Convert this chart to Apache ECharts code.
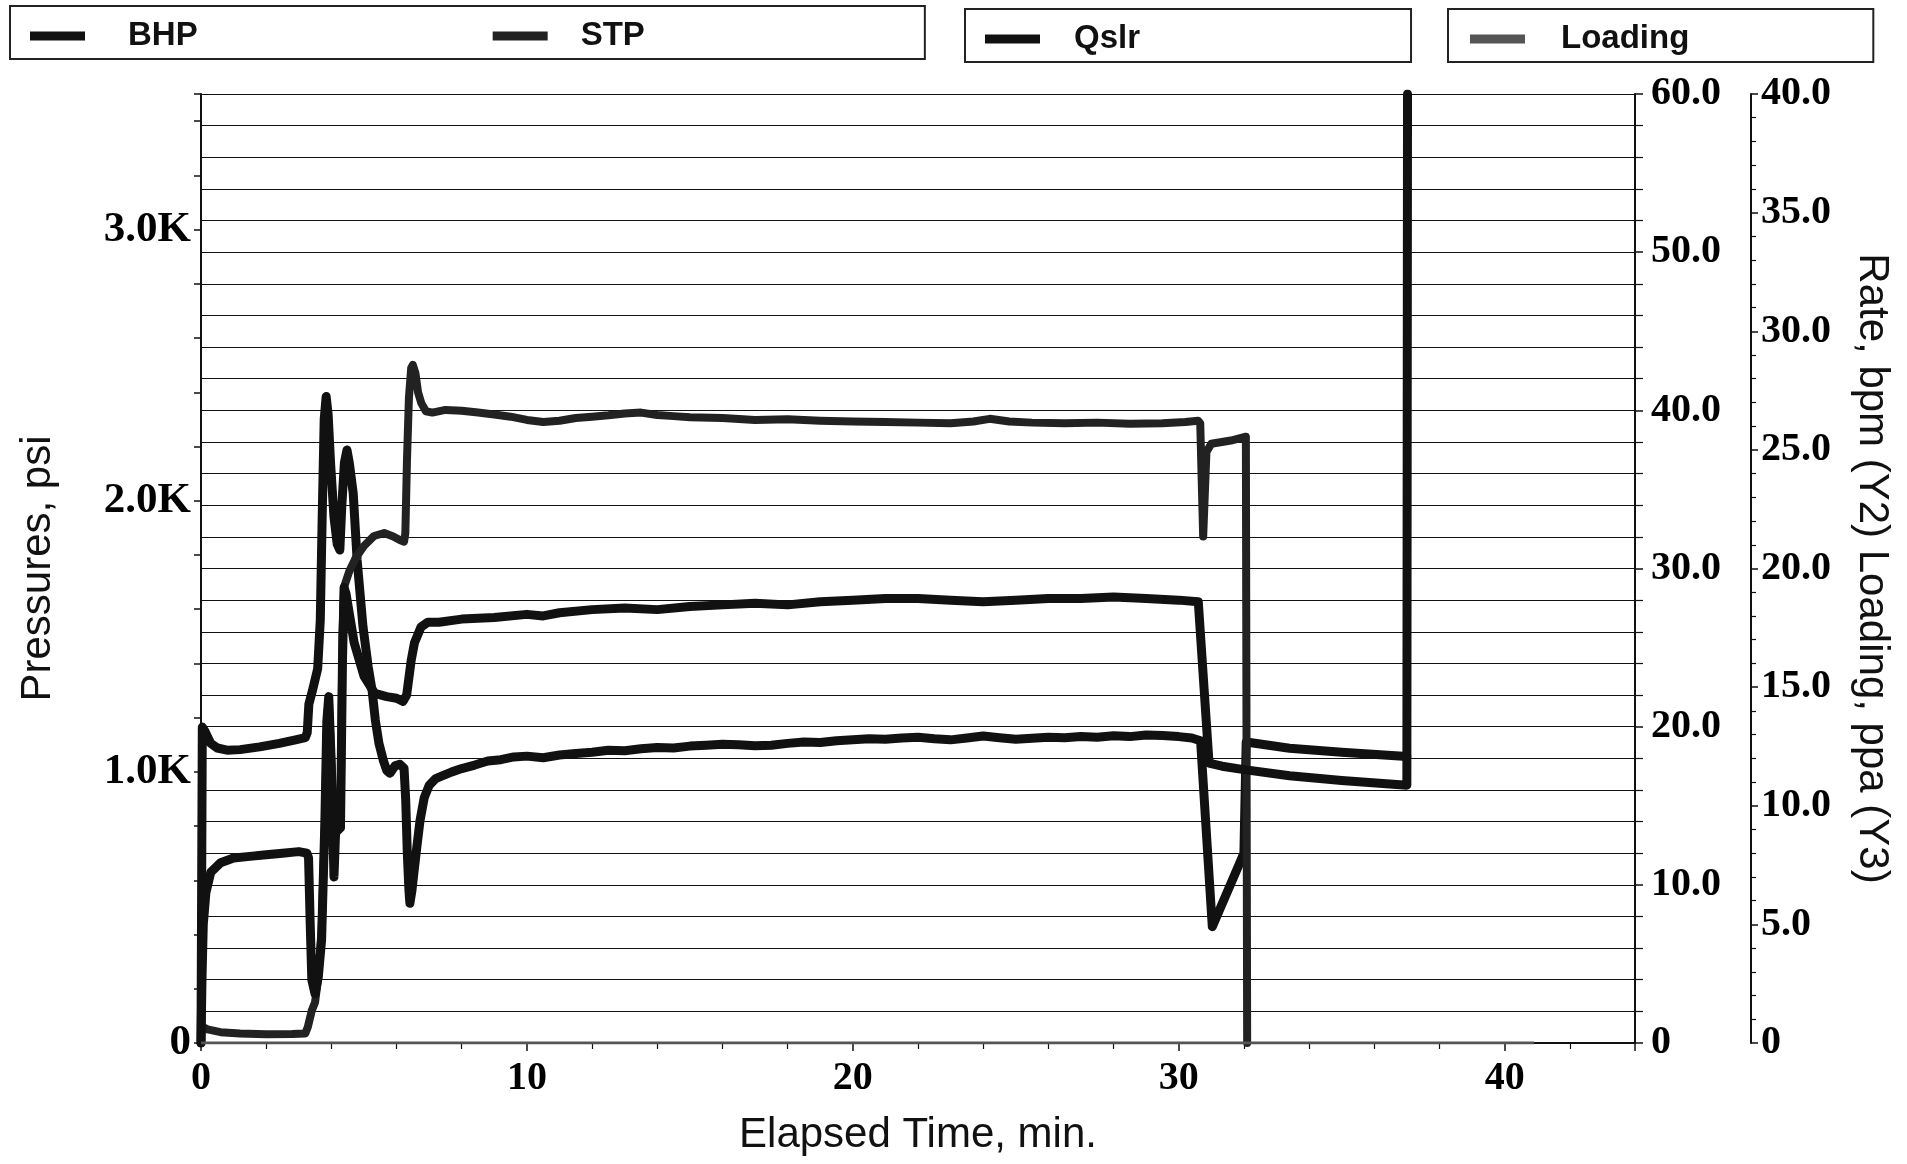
<!DOCTYPE html>
<html><head><meta charset="utf-8">
<script src="https://cdn.jsdelivr.net/npm/echarts/dist/echarts.min.js"></script>
<style>html,body{margin:0;padding:0;background:#fff}#c{width:1907px;height:1164px}</style>
</head><body><div id="c"></div>
<script>
// ---- data (time in minutes) ----
const seriesNames = ['BHP', 'STP', 'Qslr', 'Loading'];

// BHP, psi
const bhpData = [
 [0,0],[0.04,1165],[0.12,1150],[0.3,1105],[0.5,1088],[0.8,1080],[1.2,1082],[1.8,1092],[2.4,1105],[2.9,1118],[3.2,1126],
 [3.26,1145],[3.31,1250],[3.42,1300],[3.58,1380],[3.66,1560],[3.72,1950],[3.78,2300],[3.84,2384],[3.9,2320],[3.98,2130],
 [4.08,1940],[4.18,1840],[4.26,1818],[4.32,1980],[4.4,2140],[4.48,2187],[4.55,2140],[4.67,2028],[4.79,1782],[4.97,1536],
 [5.13,1388],[5.25,1300],[5.35,1190],[5.46,1105],[5.6,1040],[5.7,1005],[5.8,995],[5.95,1022],[6.1,1028],[6.23,1013],
 [6.28,900],[6.33,700],[6.38,564],[6.41,515],[6.47,560],[6.53,625],[6.62,720],[6.72,820],[6.85,905],[7.0,950],[7.2,975],
 [7.4,985],[7.7,1000],[8.0,1012],[8.4,1025],[8.8,1040],[9.2,1045],[9.6,1055],[10.0,1058],[10.5,1052],[11.0,1062],
 [11.5,1068],[12.0,1072],[12.5,1080],[13.0,1078],[13.5,1085],[14.0,1090],[14.5,1088],[15.0,1095],[15.5,1098],[16.0,1102],
 [16.5,1100],[17.0,1096],[17.5,1098],[18.0,1105],[18.5,1110],[19.0,1108],[19.5,1115],[20.0,1118],[20.5,1122],[21.0,1120],
 [21.5,1125],[22.0,1128],[22.5,1122],[23.0,1118],[23.5,1125],[24.0,1132],[24.5,1126],[25.0,1120],[25.5,1124],[26.0,1128],
 [26.5,1126],[27.0,1130],[27.5,1128],[28.0,1133],[28.5,1130],[29.0,1136],[29.5,1134],[30.0,1130],[30.4,1125],[30.67,1115],
 [31.03,429],[32.0,700],[32.07,1110],[33.4,1087],[35.0,1072],[37.0,1057]
];

// STP, psi
const stpData = [
 [0,62],[0.2,50],[0.6,40],[1.2,35],[2.0,32],[2.8,33],[3.2,35],[3.28,60],[3.4,120],[3.5,150],[3.6,245],[3.7,420],[3.8,810],
 [3.87,1200],[3.92,1270],[3.98,1100],[4.05,850],[4.15,800],[4.28,800],[4.34,1500],[4.39,1682],[4.55,1740],[4.75,1790],
 [5.0,1833],[5.31,1870],[5.62,1881],[5.9,1868],[6.1,1855],[6.23,1849],[6.27,1880],[6.32,2150],[6.38,2380],[6.45,2490],
 [6.5,2501],[6.58,2470],[6.66,2400],[6.76,2360],[6.9,2330],[7.1,2325],[7.5,2335],[8.0,2332],[8.5,2325],[9.0,2318],
 [9.5,2310],[10.0,2298],[10.5,2290],[11.0,2295],[11.5,2305],[12.0,2310],[12.5,2315],[13.0,2322],[13.5,2325],[14.0,2316],
 [14.5,2312],[15.0,2308],[16.0,2305],[17.0,2298],[18.0,2300],[19.0,2295],[20.0,2292],[21.0,2290],[22.0,2288],[23.0,2286],
 [23.7,2292],[24.2,2302],[24.8,2292],[25.5,2288],[26.5,2286],[27.5,2288],[28.5,2284],[29.5,2286],[30.2,2290],[30.6,2295],
 [30.66,2285],[30.75,1868],[30.85,2180],[31.0,2210],[31.6,2222],[32.06,2236],[32.1,0]
];

// Qslr, bpm
const qslrData = [
 [0,0],[0.03,4],[0.07,7.5],[0.15,9.5],[0.3,10.8],[0.6,11.4],[1.0,11.7],[1.5,11.8],[2.0,11.9],[2.5,12.0],[3.0,12.1],
 [3.25,12.0],[3.3,11.7],[3.35,7.6],[3.4,4.0],[3.5,3.1],[3.6,4.2],[3.7,6.5],[3.8,13.9],[3.86,20.3],[3.92,21.9],[4.0,17.5],
 [4.08,10.5],[4.13,13.3],[4.28,13.6],[4.34,24.0],[4.39,28.8],[4.45,28.4],[4.7,25.3],[5.0,23.2],[5.33,22.1],[5.7,21.9],
 [6.0,21.8],[6.2,21.6],[6.31,22.0],[6.45,24.2],[6.55,25.3],[6.75,26.3],[6.96,26.6],[7.3,26.6],[8.0,26.8],[9.0,26.9],
 [10.0,27.1],[10.5,27.0],[11.0,27.2],[12.0,27.4],[13.0,27.5],[14.0,27.4],[15.0,27.6],[16.0,27.7],[17.0,27.8],[18.0,27.7],
 [19.0,27.9],[20.0,28.0],[21.0,28.1],[22.0,28.1],[23.0,28.0],[24.0,27.9],[25.0,28.0],[26.0,28.1],[27.0,28.1],[28.0,28.2],
 [29.0,28.1],[30.0,28.0],[30.6,27.9],[30.93,17.7],[31.33,17.5],[31.95,17.3],[33.4,16.9],[35.0,16.6],[37.0,16.3],[37.02,60]
];

// Loading, ppa
const loadingData = [[0,0],[40.9,0]];

// axis ranges / ticks
const timeRange = [0, 44];
const pressureRange = [0, 3500];
const rateRange = [0, 60];
const loadingRange = [0, 40];

const serifLabel = {fontFamily: 'Liberation Serif', fontWeight: 'bold', fontSize: 40, color: '#000'};
const titleStyle = {fontFamily: 'Liberation Sans', fontSize: 42, color: '#111'};
const axisLineStyle = {color: '#111', width: 2};
const legendText = {fontFamily: 'Liberation Sans', fontWeight: 'bold', fontSize: 33, color: '#111', lineHeight: 40};
const gridLine = {color: '#111', width: 1.2};
const oneDec = v => v === 0 ? '0' : v.toFixed(1);

const chart = echarts.init(document.getElementById('c'), null, {renderer: 'canvas'});
chart.setOption({
  animation: false,
  backgroundColor: '#fff',
  grid: {left: 201, right: 272, top: 94, bottom: 121},
  legend: [
    {left: 10, top: 6, padding: [10, 280, 3, 20], itemGap: 295, itemWidth: 55, itemHeight: 9, icon: 'rect',
     borderColor: '#222', borderWidth: 2, textStyle: legendText, selectedMode: false,
     data: [{name: 'BHP', textStyle: {padding: [0, 0, 0, 38]}}, {name: 'STP', textStyle: {padding: [0, 0, 0, 28]}}]},
    {left: 965, top: 9, padding: [10, 271, 3, 20], itemWidth: 55, itemHeight: 9, icon: 'rect',
     borderColor: '#222', borderWidth: 2, textStyle: legendText, selectedMode: false,
     data: [{name: 'Qslr', textStyle: {padding: [0, 0, 0, 29]}}]},
    {left: 1448, top: 9, padding: [10, 184, 3, 22], itemWidth: 55, itemHeight: 9, icon: 'rect',
     borderColor: '#222', borderWidth: 2, textStyle: legendText, selectedMode: false,
     data: [{name: 'Loading', textStyle: {padding: [0, 0, 0, 31]}}]}
  ],
  xAxis: {
    type: 'value', min: timeRange[0], max: timeRange[1], interval: 10,
    name: 'Elapsed Time, min.', nameLocation: 'middle', nameGap: 71, nameTextStyle: titleStyle,
    axisLine: {onZero: false, lineStyle: axisLineStyle},
    axisTick: {length: 8, lineStyle: {color: '#111', width: 1.5}},
    minorTick: {show: true, splitNumber: 5, length: 6, lineStyle: {color: '#111', width: 1.2}},
    axisLabel: Object.assign({margin: 16, formatter: v => (v % 10 === 0 ? String(v) : '')}, serifLabel),
    splitLine: {show: false}
  },
  yAxis: [
    {
      type: 'value', min: pressureRange[0], max: pressureRange[1], interval: 200, position: 'left',
      name: 'Pressures, psi', nameLocation: 'middle', nameGap: 142, nameTextStyle: titleStyle,
      axisLine: {show: true, onZero: false, lineStyle: axisLineStyle},
      axisTick: {show: true, length: 7, lineStyle: {color: '#111', width: 1.5}},
      axisLabel: Object.assign({margin: 10, formatter: v => v === 0 ? '0' : (v % 1000 === 0 ? (v / 1000).toFixed(1) + 'K' : '')},
                               serifLabel, {fontSize: 43}),
      splitLine: {show: false}
    },
    {
      type: 'value', min: rateRange[0], max: rateRange[1], interval: 10, position: 'right',
      axisLine: {show: true, onZero: false, lineStyle: axisLineStyle},
      axisTick: {show: true, length: 8, lineStyle: {color: '#111', width: 1.5}},
      minorTick: {show: true, splitNumber: 5, length: 8, lineStyle: {color: '#111', width: 1.2}},
      axisLabel: Object.assign({margin: 16, formatter: oneDec}, serifLabel),
      splitLine: {show: true, lineStyle: gridLine},
      minorSplitLine: {show: true, lineStyle: gridLine}
    },
    {
      type: 'value', min: loadingRange[0], max: loadingRange[1], interval: 5, position: 'right', offset: 116,
      name: 'Rate, bpm (Y2) Loading, ppa (Y3)', nameLocation: 'middle', nameRotate: -90, nameGap: 100,
      nameTextStyle: titleStyle,
      axisLine: {show: true, onZero: false, lineStyle: axisLineStyle},
      axisTick: {show: true, length: 7, lineStyle: {color: '#111', width: 1.5}},
      minorTick: {show: true, splitNumber: 5, length: 5, lineStyle: {color: '#111', width: 1.2}},
      axisLabel: Object.assign({margin: 10, formatter: oneDec}, serifLabel),
      splitLine: {show: false}
    }
  ],
  series: [
    {name: seriesNames[0], type: 'line', yAxisIndex: 0, data: bhpData, showSymbol: false, color: '#111',
     lineStyle: {width: 9, join: 'round', cap: 'round'}},
    {name: seriesNames[1], type: 'line', yAxisIndex: 0, data: stpData, showSymbol: false, color: '#222',
     lineStyle: {width: 8, join: 'round', cap: 'round'}},
    {name: seriesNames[2], type: 'line', yAxisIndex: 1, data: qslrData, showSymbol: false, color: '#111',
     lineStyle: {width: 9, join: 'round', cap: 'round'}},
    {name: seriesNames[3], type: 'line', yAxisIndex: 2, data: loadingData, showSymbol: false, color: '#555',
     lineStyle: {width: 3}}
  ]
});
</script></body></html>
